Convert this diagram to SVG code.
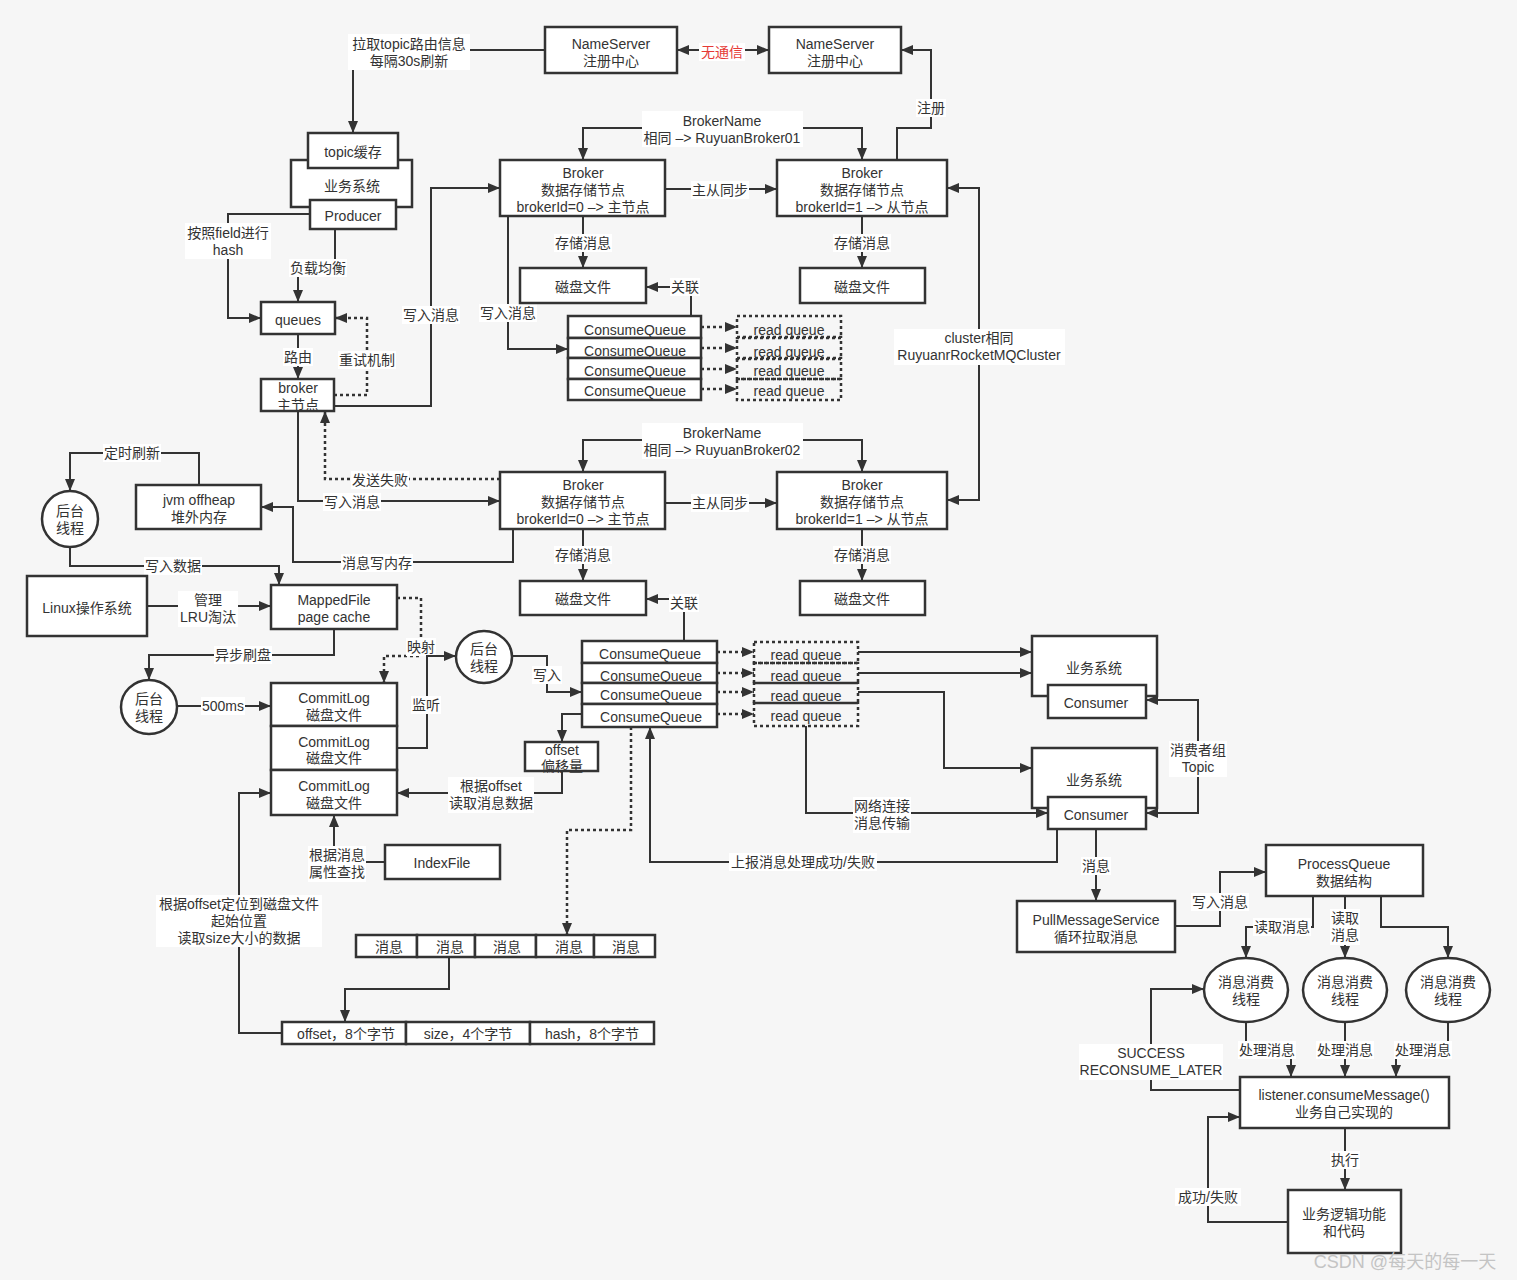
<svg xmlns="http://www.w3.org/2000/svg" width="1517" height="1280" viewBox="0 0 1517 1280">
<style>
.box{fill:#fff;stroke:#333;stroke-width:2.5}
.dbox{fill:none;stroke:#333;stroke-width:2.5;stroke-dasharray:3 3}
.t{font-family:"Liberation Sans","Noto Sans CJK SC",sans-serif;font-size:14px;fill:#333;text-anchor:middle;dominant-baseline:central}
.ln{fill:none;stroke:#333;stroke-width:2}
.dl{fill:none;stroke:#333;stroke-width:2.5;stroke-dasharray:3 3}
.lb{fill:#fff;stroke:none}
.a{marker-end:url(#ah)}
.s{marker-start:url(#ah)}
</style>
<defs>
<marker id="ah" markerUnits="userSpaceOnUse" viewBox="0 0 12 10" markerWidth="12" markerHeight="10" refX="12" refY="5" orient="auto-start-reverse">
<path d="M0,0 L12,5 L0,10 z" fill="#333"/>
</marker>
</defs>
<rect width="1517" height="1280" fill="#f6f6f6"/>

<g id="connectors">
<path class="ln a s" d="M677,50 L769,50"/>
<rect class="lb" x="699" y="43" width="46" height="18"/><text class="t" x="722" y="52" style="fill:#e53935">无通信</text>
<path class="ln a" d="M545,50 L353,50 L353,133"/>
<rect class="lb" x="348" y="34" width="122" height="36"/><text class="t" x="409" y="44">拉取topic路由信息</text><text class="t" x="409" y="61">每隔30s刷新</text>
<path class="ln a" d="M310,214 L228,214 L228,318 L261,318"/>
<rect class="lb" x="185" y="223" width="86" height="36"/><text class="t" x="228" y="233">按照field进行</text><text class="t" x="228" y="250">hash</text>
<path class="ln a" d="M335,229 L335,268 L298,268 L298,302"/>
<rect class="lb" x="289" y="259" width="58" height="18"/><text class="t" x="318" y="268">负载均衡</text>
<path class="ln a" d="M298,334 L298,379"/>
<rect class="lb" x="283" y="348" width="30" height="18"/><text class="t" x="298" y="357">路由</text>
<path class="dl a" d="M334,395 L367,395 L367,318 L335,318"/>
<rect class="lb" x="338" y="351" width="58" height="18"/><text class="t" x="367" y="360">重试机制</text>
<path class="ln a" d="M334,406 L431,406 L431,188 L500,188"/>
<rect class="lb" x="402" y="306" width="58" height="18"/><text class="t" x="431" y="315">写入消息</text>
<path class="ln a" d="M643,128 L583,128 L583,160"/>
<path class="ln a" d="M803,128 L862,128 L862,160"/>
<rect class="lb" x="642" y="111" width="161" height="36"/><text class="t" x="722" y="121">BrokerName</text><text class="t" x="722" y="138">相同 –&gt; RuyuanBroker01</text>
<path class="ln a" d="M665,189 L777,189"/>
<rect class="lb" x="691" y="181" width="58" height="18"/><text class="t" x="720" y="190">主从同步</text>
<path class="ln a" d="M897,160 L897,128 L931,128 L931,50 L901,50"/>
<rect class="lb" x="916" y="99" width="30" height="18"/><text class="t" x="931" y="108">注册</text>
<path class="ln a" d="M583,216 L583,268"/>
<rect class="lb" x="554" y="234" width="58" height="18"/><text class="t" x="583" y="243">存储消息</text>
<path class="ln a" d="M862,216 L862,268"/>
<rect class="lb" x="833" y="234" width="58" height="18"/><text class="t" x="862" y="243">存储消息</text>
<path class="ln a" d="M691,316 L691,287 L646,287"/>
<rect class="lb" x="670" y="278" width="30" height="18"/><text class="t" x="685" y="287">关联</text>
<path class="ln a" d="M508,216 L508,349 L568,349"/>
<rect class="lb" x="479" y="304" width="58" height="18"/><text class="t" x="508" y="313">写入消息</text>
<path class="dl a" d="M701,327 L737,327"/>
<path class="dl a" d="M701,348 L737,348"/>
<path class="dl a" d="M701,369 L737,369"/>
<path class="dl a" d="M701,389 L737,389"/>
<path class="ln a s" d="M947,188 L979,188 L979,500 L947,500"/>
<rect class="lb" x="894" y="329" width="171" height="36"/><text class="t" x="979" y="338">cluster相同</text><text class="t" x="979" y="355">RuyuanrRocketMQCluster</text>
<path class="ln a" d="M643,440 L583,440 L583,472"/>
<path class="ln a" d="M803,440 L862,440 L862,472"/>
<rect class="lb" x="642" y="423" width="161" height="36"/><text class="t" x="722" y="433">BrokerName</text><text class="t" x="722" y="450">相同 –&gt; RuyuanBroker02</text>
<path class="ln a" d="M665,503 L777,503"/>
<rect class="lb" x="691" y="494" width="58" height="18"/><text class="t" x="720" y="503">主从同步</text>
<path class="ln a" d="M583,529 L583,581"/>
<rect class="lb" x="554" y="546" width="58" height="18"/><text class="t" x="583" y="555">存储消息</text>
<path class="ln a" d="M862,529 L862,581"/>
<rect class="lb" x="833" y="546" width="58" height="18"/><text class="t" x="862" y="555">存储消息</text>
<path class="ln a" d="M684,641 L684,599 L646,599"/>
<rect class="lb" x="669" y="594" width="30" height="18"/><text class="t" x="684" y="603">关联</text>
<path class="dl a" d="M500,479 L325,479 L325,411"/>
<rect class="lb" x="351" y="471" width="58" height="18"/><text class="t" x="380" y="480">发送失败</text>
<path class="ln a" d="M298,411 L298,501 L500,501"/>
<rect class="lb" x="323" y="493" width="58" height="18"/><text class="t" x="352" y="502">写入消息</text>
<path class="ln a" d="M513,529 L513,562 L293,562 L293,507 L261,507"/>
<rect class="lb" x="341" y="554" width="72" height="18"/><text class="t" x="377" y="563">消息写内存</text>
<path class="ln a" d="M199,485 L199,453 L70,453 L70,491"/>
<rect class="lb" x="103" y="444" width="58" height="18"/><text class="t" x="132" y="453">定时刷新</text>
<path class="ln a" d="M70,547 L70,566 L279,566 L279,585"/>
<rect class="lb" x="144" y="557" width="58" height="18"/><text class="t" x="173" y="566">写入数据</text>
<path class="ln a" d="M147,606 L271,606"/>
<rect class="lb" x="178" y="591" width="60" height="36"/><text class="t" x="208" y="600">管理</text><text class="t" x="208" y="617">LRU淘汰</text>
<path class="ln a" d="M334,629 L334,655 L149,655 L149,680"/>
<rect class="lb" x="214" y="646" width="58" height="18"/><text class="t" x="243" y="655">异步刷盘</text>
<path class="ln a" d="M177,706 L271,706"/>
<rect class="lb" x="201" y="697" width="44" height="18"/><text class="t" x="223" y="706">500ms</text>
<path class="dl a" d="M397,598 L421,598 L421,656 L384,656 L384,683"/>
<rect class="lb" x="406" y="638" width="30" height="18"/><text class="t" x="421" y="647">映射</text>
<path class="ln a" d="M397,748 L427,748 L427,656 L456,656"/>
<rect class="lb" x="411" y="696" width="30" height="18"/><text class="t" x="426" y="705">监听</text>
<path class="ln a" d="M512,656 L547,656 L547,692 L582,692"/>
<rect class="lb" x="532" y="666" width="30" height="18"/><text class="t" x="547" y="675">写入</text>
<path class="ln a" d="M582,714 L562,714 L562,742"/>
<path class="ln a" d="M562,771 L562,793 L397,793"/>
<rect class="lb" x="448" y="777" width="86" height="36"/><text class="t" x="491" y="786">根据offset</text><text class="t" x="491" y="803">读取消息数据</text>
<path class="ln a" d="M385,862 L334,862 L334,815"/>
<rect class="lb" x="308" y="846" width="58" height="36"/><text class="t" x="337" y="855">根据消息</text><text class="t" x="337" y="872">属性查找</text>
<path class="dl a" d="M631,727 L631,830 L567,830 L567,935"/>
<path class="ln a" d="M449,957 L449,989 L345,989 L345,1022"/>
<path class="ln a" d="M282,1033 L239,1033 L239,793 L271,793"/>
<rect class="lb" x="156" y="895" width="166" height="52"/><text class="t" x="239" y="904">根据offset定位到磁盘文件</text><text class="t" x="239" y="921">起始位置</text><text class="t" x="239" y="938">读取size大小的数据</text>
<path class="dl a" d="M717,652 L754,652"/>
<path class="dl a" d="M717,673 L754,673"/>
<path class="dl a" d="M717,692 L754,692"/>
<path class="dl a" d="M717,714 L754,714"/>
<path class="ln a" d="M858,652 L1032,652"/>
<path class="ln a" d="M858,673 L1032,673"/>
<path class="ln a" d="M858,692 L944,692 L944,768 L1032,768"/>
<path class="ln a" d="M806,726 L806,813 L1048,813"/>
<rect class="lb" x="853" y="797" width="58" height="36"/><text class="t" x="882" y="806">网络连接</text><text class="t" x="882" y="823">消息传输</text>
<path class="ln a s" d="M1146,700 L1198,700 L1198,813 L1146,813"/>
<rect class="lb" x="1169" y="741" width="58" height="36"/><text class="t" x="1198" y="750">消费者组</text><text class="t" x="1198" y="767">Topic</text>
<path class="ln a" d="M1057,829 L1057,862 L650,862 L650,727"/>
<rect class="lb" x="729" y="853" width="148" height="18"/><text class="t" x="803" y="862">上报消息处理成功/失败</text>
<path class="ln a" d="M1096,829 L1096,901"/>
<rect class="lb" x="1081" y="857" width="30" height="18"/><text class="t" x="1096" y="866">消息</text>
<path class="ln a" d="M1175,926 L1220,926 L1220,872 L1266,872"/>
<rect class="lb" x="1191" y="893" width="58" height="18"/><text class="t" x="1220" y="902">写入消息</text>
<path class="ln a" d="M1313,896 L1313,927 L1246,927 L1246,958"/>
<rect class="lb" x="1253" y="918" width="58" height="18"/><text class="t" x="1282" y="927">读取消息</text>
<path class="ln a" d="M1345,896 L1345,958"/>
<rect class="lb" x="1330" y="909" width="30" height="36"/><text class="t" x="1345" y="918">读取</text><text class="t" x="1345" y="935">消息</text>
<path class="ln a" d="M1381,896 L1381,927 L1448,927 L1448,958"/>
<path class="ln a" d="M1246,1022 L1246,1050 L1291,1050 L1291,1077"/>
<rect class="lb" x="1238" y="1041" width="58" height="18"/><text class="t" x="1267" y="1050">处理消息</text>
<path class="ln a" d="M1345,1022 L1345,1077"/>
<rect class="lb" x="1316" y="1041" width="58" height="18"/><text class="t" x="1345" y="1050">处理消息</text>
<path class="ln a" d="M1448,1022 L1448,1050 L1396,1050 L1396,1077"/>
<rect class="lb" x="1394" y="1041" width="58" height="18"/><text class="t" x="1423" y="1050">处理消息</text>
<path class="ln a" d="M1240,1090 L1151,1090 L1151,989 L1204,989"/>
<rect class="lb" x="1079" y="1044" width="144" height="36"/><text class="t" x="1151" y="1053">SUCCESS</text><text class="t" x="1151" y="1070">RECONSUME_LATER</text>
<path class="ln a" d="M1345,1128 L1345,1190"/>
<rect class="lb" x="1330" y="1151" width="30" height="18"/><text class="t" x="1345" y="1160">执行</text>
<path class="ln a" d="M1288,1222 L1208,1222 L1208,1117 L1240,1117"/>
<rect class="lb" x="1175" y="1188" width="66" height="18"/><text class="t" x="1208" y="1197">成功/失败</text>
</g>

<g id="nameserver1"><rect class="box" x="545" y="27" width="132" height="46"/><text class="t" x="611" y="44">NameServer</text><text class="t" x="611" y="61">注册中心</text></g>
<g id="nameserver2"><rect class="box" x="769" y="27" width="132" height="46"/><text class="t" x="835" y="44">NameServer</text><text class="t" x="835" y="61">注册中心</text></g>
<g id="producer-system"><rect class="box" x="291" y="160" width="121" height="47"/><rect class="box" x="308" y="133" width="90" height="35"/><text class="t" x="353" y="152">topic缓存</text><text class="t" x="352" y="186">业务系统</text><rect class="box" x="310" y="200" width="86" height="29"/><text class="t" x="353" y="216">Producer</text></g>
<g id="queues"><rect class="box" x="261" y="302" width="74" height="32"/><text class="t" x="298" y="320">queues</text></g>
<g id="broker-master"><rect class="box" x="261" y="379" width="73" height="32"/><text class="t" x="298" y="388">broker</text><text class="t" x="298" y="405">主节点</text></g>
<g id="broker01-master"><rect class="box" x="500" y="160" width="165" height="56"/><text class="t" x="583" y="173">Broker</text><text class="t" x="583" y="190">数据存储节点</text><text class="t" x="583" y="207">brokerId=0 –&gt; 主节点</text></g>
<g id="broker01-slave"><rect class="box" x="777" y="160" width="170" height="56"/><text class="t" x="862" y="173">Broker</text><text class="t" x="862" y="190">数据存储节点</text><text class="t" x="862" y="207">brokerId=1 –&gt; 从节点</text></g>
<g id="disk01-master"><rect class="box" x="520" y="268" width="126" height="35"/><text class="t" x="583" y="287">磁盘文件</text></g>
<g id="disk01-slave"><rect class="box" x="800" y="268" width="125" height="35"/><text class="t" x="862" y="287">磁盘文件</text></g>
<g id="consumequeue01">
<rect class="box" x="568" y="316" width="133" height="22"/><rect class="box" x="568" y="338" width="133" height="20"/><rect class="box" x="568" y="358" width="133" height="21"/><rect class="box" x="568" y="379" width="133" height="21"/>
<text class="t" x="635" y="330">ConsumeQueue</text><text class="t" x="635" y="351">ConsumeQueue</text><text class="t" x="635" y="371">ConsumeQueue</text><text class="t" x="635" y="391">ConsumeQueue</text></g>
<g id="readqueue01">
<rect class="dbox" x="737" y="316" width="104" height="22"/><rect class="dbox" x="737" y="337" width="104" height="22"/><rect class="dbox" x="737" y="358" width="104" height="21"/><rect class="dbox" x="737" y="379" width="104" height="21"/>
<text class="t" x="789" y="330">read queue</text><text class="t" x="789" y="352">read queue</text><text class="t" x="789" y="371">read queue</text><text class="t" x="789" y="391">read queue</text></g>
<g id="broker02-master"><rect class="box" x="500" y="472" width="165" height="57"/><text class="t" x="583" y="485">Broker</text><text class="t" x="583" y="502">数据存储节点</text><text class="t" x="583" y="519">brokerId=0 –&gt; 主节点</text></g>
<g id="broker02-slave"><rect class="box" x="777" y="472" width="170" height="57"/><text class="t" x="862" y="485">Broker</text><text class="t" x="862" y="502">数据存储节点</text><text class="t" x="862" y="519">brokerId=1 –&gt; 从节点</text></g>
<g id="disk02-master"><rect class="box" x="520" y="581" width="126" height="34"/><text class="t" x="583" y="599">磁盘文件</text></g>
<g id="disk02-slave"><rect class="box" x="800" y="581" width="125" height="34"/><text class="t" x="862" y="599">磁盘文件</text></g>
<g id="consumequeue02">
<rect class="box" x="582" y="641" width="135" height="22"/><rect class="box" x="582" y="663" width="135" height="20"/><rect class="box" x="582" y="683" width="135" height="21"/><rect class="box" x="582" y="704" width="135" height="23"/>
<text class="t" x="650" y="654">ConsumeQueue</text><text class="t" x="651" y="676">ConsumeQueue</text><text class="t" x="651" y="695">ConsumeQueue</text><text class="t" x="651" y="717">ConsumeQueue</text></g>
<g id="readqueue02">
<rect class="dbox" x="754" y="642" width="104" height="21"/><rect class="dbox" x="754" y="663" width="104" height="20"/><rect class="dbox" x="754" y="683" width="104" height="20"/><rect class="dbox" x="754" y="703" width="104" height="23"/>
<text class="t" x="806" y="655">read queue</text><text class="t" x="806" y="676">read queue</text><text class="t" x="806" y="696">read queue</text><text class="t" x="806" y="716">read queue</text></g>
<g id="consumer-system1"><rect class="box" x="1032" y="636" width="125" height="60"/><text class="t" x="1094" y="668">业务系统</text><rect class="box" x="1048" y="685" width="98" height="33"/><text class="t" x="1096" y="703">Consumer</text></g>
<g id="consumer-system2"><rect class="box" x="1032" y="748" width="125" height="60"/><text class="t" x="1094" y="780">业务系统</text><rect class="box" x="1048" y="797" width="98" height="32"/><text class="t" x="1096" y="815">Consumer</text></g>
<g id="pullmessageservice"><rect class="box" x="1017" y="901" width="158" height="51"/><text class="t" x="1096" y="920">PullMessageService</text><text class="t" x="1096" y="937">循环拉取消息</text></g>
<g id="processqueue"><rect class="box" x="1266" y="845" width="157" height="51"/><text class="t" x="1344" y="864">ProcessQueue</text><text class="t" x="1344" y="881">数据结构</text></g>
<g id="consume-thread1"><ellipse class="box" cx="1246" cy="990" rx="42" ry="32"/><text class="t" x="1246" y="982">消息消费</text><text class="t" x="1246" y="999">线程</text></g>
<g id="consume-thread2"><ellipse class="box" cx="1345" cy="990" rx="42" ry="32"/><text class="t" x="1345" y="982">消息消费</text><text class="t" x="1345" y="999">线程</text></g>
<g id="consume-thread3"><ellipse class="box" cx="1448" cy="990" rx="42" ry="32"/><text class="t" x="1448" y="982">消息消费</text><text class="t" x="1448" y="999">线程</text></g>
<g id="listener"><rect class="box" x="1240" y="1077" width="209" height="51"/><text class="t" x="1344" y="1095">listener.consumeMessage()</text><text class="t" x="1344" y="1112">业务自己实现的</text></g>
<g id="business-logic"><rect class="box" x="1288" y="1190" width="113" height="63"/><text class="t" x="1344" y="1214">业务逻辑功能</text><text class="t" x="1344" y="1231">和代码</text></g>
<g id="jvm-offheap"><rect class="box" x="136" y="485" width="125" height="44"/><text class="t" x="199" y="500">jvm offheap</text><text class="t" x="199" y="517">堆外内存</text></g>
<g id="bg-thread1"><ellipse class="box" cx="70" cy="519" rx="28" ry="28"/><text class="t" x="70" y="511">后台</text><text class="t" x="70" y="528">线程</text></g>
<g id="linux"><rect class="box" x="27" y="576" width="120" height="60"/><text class="t" x="87" y="608">Linux操作系统</text></g>
<g id="mappedfile"><rect class="box" x="271" y="585" width="126" height="44"/><text class="t" x="334" y="600">MappedFile</text><text class="t" x="334" y="617">page cache</text></g>
<g id="bg-thread2"><ellipse class="box" cx="149" cy="707" rx="28" ry="27"/><text class="t" x="149" y="699">后台</text><text class="t" x="149" y="716">线程</text></g>
<g id="commitlog">
<rect class="box" x="271" y="683" width="126" height="43"/><rect class="box" x="271" y="726" width="126" height="44"/><rect class="box" x="271" y="770" width="126" height="45"/>
<text class="t" x="334" y="698">CommitLog</text><text class="t" x="334" y="715">磁盘文件</text><text class="t" x="334" y="742">CommitLog</text><text class="t" x="334" y="758">磁盘文件</text><text class="t" x="334" y="786">CommitLog</text><text class="t" x="334" y="803">磁盘文件</text></g>
<g id="bg-thread3"><ellipse class="box" cx="484" cy="657" rx="28" ry="26"/><text class="t" x="484" y="649">后台</text><text class="t" x="484" y="666">线程</text></g>
<g id="offset"><rect class="box" x="525" y="742" width="73" height="29"/><text class="t" x="562" y="750">offset</text><text class="t" x="562" y="766">偏移量</text></g>
<g id="indexfile"><rect class="box" x="385" y="845" width="115" height="34"/><text class="t" x="442" y="863">IndexFile</text></g>
<g id="messages">
<rect class="box" x="356" y="935" width="61" height="22"/><rect class="box" x="417" y="935" width="58" height="22"/><rect class="box" x="475" y="935" width="61" height="22"/><rect class="box" x="536" y="935" width="58" height="22"/><rect class="box" x="594" y="935" width="61" height="22"/>
<text class="t" x="389" y="947">消息</text><text class="t" x="450" y="947">消息</text><text class="t" x="507" y="947">消息</text><text class="t" x="569" y="947">消息</text><text class="t" x="626" y="947">消息</text></g>
<g id="index-entry">
<rect class="box" x="282" y="1022" width="124" height="22"/><rect class="box" x="406" y="1022" width="124" height="22"/><rect class="box" x="530" y="1022" width="124" height="22"/>
<text class="t" x="346" y="1034">offset，8个字节</text><text class="t" x="468" y="1034">size，4个字节</text><text class="t" x="592" y="1034">hash，8个字节</text></g>
<text x="1405" y="1262" style="font-family:'Liberation Sans','Noto Sans CJK SC',sans-serif;font-size:18px;fill:#c4c4c4;text-anchor:middle;dominant-baseline:central">CSDN @每天的每一天</text>
</svg>
